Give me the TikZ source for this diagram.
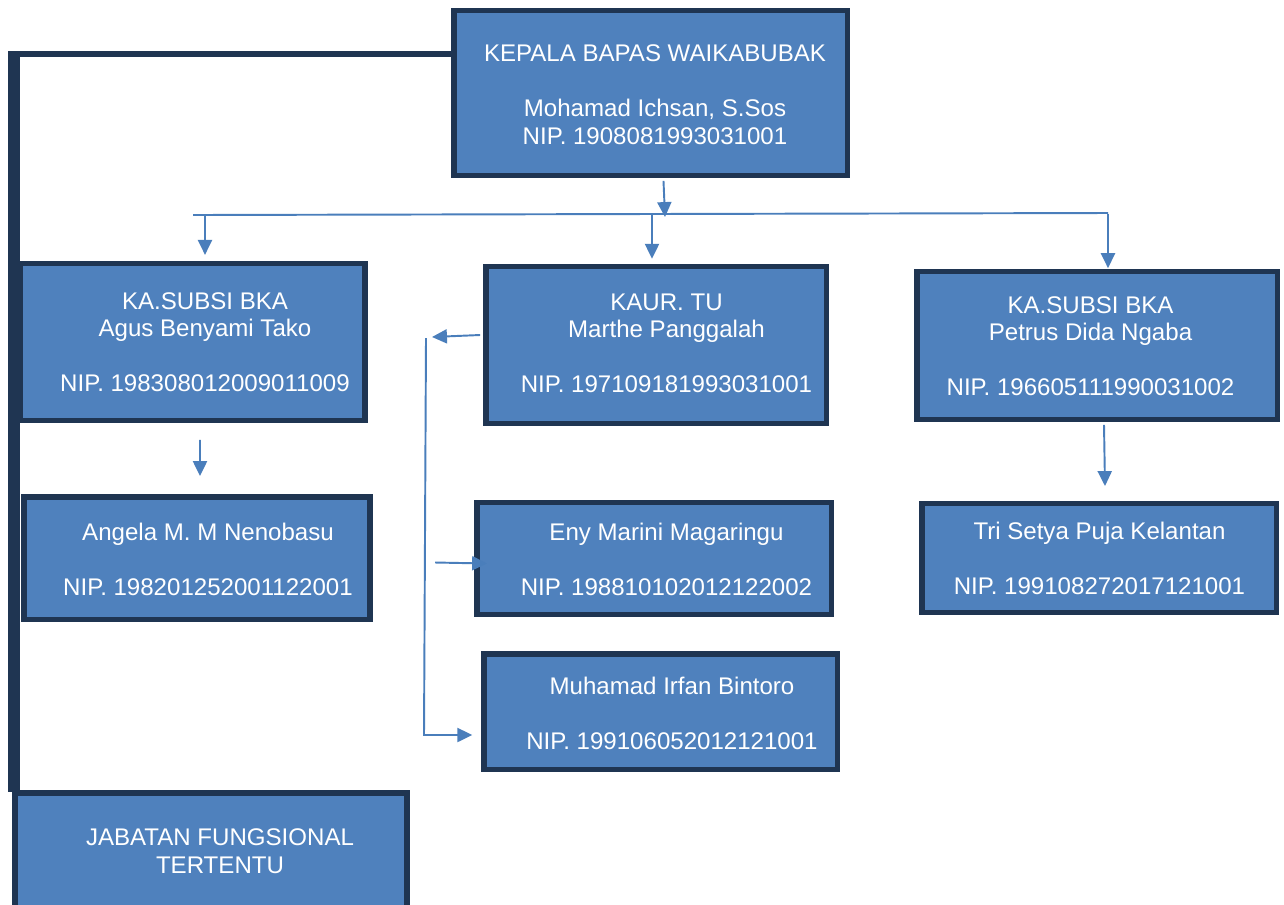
\documentclass[tikz,border=0pt]{standalone}
\usepackage{fontspec}
\setmainfont{Liberation Sans}
\usetikzlibrary{arrows.meta,calc}
\definecolor{boxfill}{HTML}{4F81BD}
\definecolor{boxline}{HTML}{1F3552}
\definecolor{linkblue}{HTML}{4A7EBB}
\tikzset{
	box/.style={draw=boxline, fill=boxfill, line width=3.1pt, rectangle, inner sep=0pt},
	boxtext/.style={text=white, align=center, inner sep=0pt, font=\fontsize{13.7}{15.65}\selectfont},
	link/.style={draw=linkblue, line width=1.1pt},
	flow/.style={link, -{Triangle[length=8.5pt,width=8pt]}},
	spine/.style={draw=boxline}
}
\begin{document}
\begin{tikzpicture}[x=0.02cm, y=-0.02cm]
		\useasboundingbox (0,0) rectangle (1284,904);
		
		% Head of office
		\node[box, minimum width=7.87cm, minimum height=3.29cm] (kepala) at (650.5,93) {};
		\node[boxtext] (kepalaTxt) at (655,94.5) {KEPALA BAPAS WAIKABUBAK\\[15.65pt]Mohamad Ichsan, S.Sos\\NIP. 1908081993031001};
		
		% Second row
		\node[box, minimum width=6.91cm, minimum height=3.13cm] (bkaA) at (192.5,342) {};
		\node[boxtext] (bkaATxt) at (205,342) {KA.SUBSI BKA\\Agus Benyami Tako\\[15.65pt]NIP. 198308012009011009};
		
		\node[box, minimum width=6.81cm, minimum height=3.13cm] (kaur) at (656,345) {};
		\node[boxtext] (kaurTxt) at (666.5,343.5) {KAUR. TU\\Marthe Panggalah\\[15.65pt]NIP. 197109181993031001};
		
		\node[box, minimum width=7.21cm, minimum height=2.95cm] (bkaP) at (1097,345.5) {};
		\node[boxtext] (bkaPTxt) at (1090.5,346) {KA.SUBSI BKA\\Petrus Dida Ngaba\\[15.65pt]NIP. 196605111990031002};
		
		% Staff
		\node[box, minimum width=6.93cm, minimum height=2.45cm] (angela) at (197,558) {};
		\node[boxtext] (angelaTxt) at (208,559) {Angela M. M Nenobasu\\[15.65pt]NIP. 198201252001122001};
		
		\node[box, minimum width=7.09cm, minimum height=2.23cm] (eny) at (654,558.5) {};
		\node[boxtext] (enyTxt) at (666.5,559.5) {Eny Marini Magaringu\\[15.65pt]NIP. 198810102012122002};
		
		\node[box, minimum width=7.07cm, minimum height=2.31cm] (irfan) at (660.5,711.5) {};
		\node[boxtext] (irfanTxt) at (672,713) {Muhamad Irfan Bintoro\\[15.65pt]NIP. 199106052012121001};
		
		\node[box, minimum width=7.09cm, minimum height=2.17cm] (tri) at (1099,558) {};
		\node[boxtext] (triTxt) at (1099.5,558) {Tri Setya Puja Kelantan\\[15.65pt]NIP. 199108272017121001};
		
		\node[box, minimum width=7.85cm, minimum height=2.39cm] (jabatan) at (211,852.5) {};
		\node[boxtext] (jabatanTxt) at (220,851) {JABATAN FUNGSIONAL\\TERTENTU};
		
		% Thick line to functional posts
		\coordinate (elbow) at (14,54);
		\draw[spine, line width=3.4pt] (kepala.west |- elbow) -- ($(elbow)+(-6,0)$);
		\draw[spine, line width=6.8pt] ($(elbow)+(0,-3)$) -- ($(elbow |- jabatan.north)+(0,2)$);
		
		% Bus below head
		\coordinate (busL) at (193,215);
		\coordinate (busR) at (1108,213);
		\coordinate (dropA) at (205,215);
		\coordinate (dropB) at (652,214);
		\coordinate (dropC) at (1108,214);
		\draw[flow] ($(kepala.south)+(13,3)$) -- (665,217);
		\draw[link] (busL) -- (busR);
		\draw[flow, shorten >=3.5pt] (dropA) -- (dropA |- bkaA.north);
		\draw[flow, shorten >=3pt] (dropB) -- (dropB |- kaur.north);
		\draw[flow, shorten >=0.5pt] (dropC) -- (dropC |- bkaP.north);
		
		% Down to staff
		\draw[flow] ($(bkaA.south)+(7.5,17)$) -- ($(angela.north)+(3,-18)$);
		\draw[flow] ($(bkaP.south)+(7,3)$) -- ($(tri.north)+(6,-15)$);
		
		% TU branch
		\coordinate (tuTop) at (426,338);
		\coordinate (tuBot) at (424,735);
		\draw[flow] ($(kaur.west)+(-3,-10)$) -- ($(tuTop)+(6,-1)$);
		\draw[flow, shorten >=5pt] (tuTop) -- (tuBot) -- (tuBot -| irfan.west);
		\draw[flow] ($(eny.west)+(-39,4)$) -- ($(eny.west)+(13,5)$);
	\end{tikzpicture}
\end{document}
